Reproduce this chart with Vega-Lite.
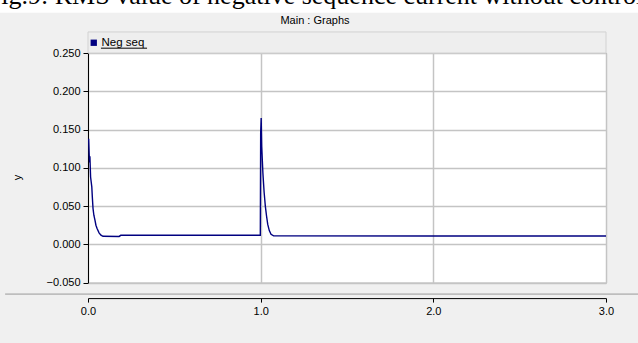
{
  "$schema": "https://vega.github.io/schema/vega-lite/v6.json",
  "width": 518,
  "height": 229.6,
  "autosize": {"type": "none"},
  "padding": {"left": 88, "top": 53, "right": 32, "bottom": 60.4},
  "background": "#f0f0f0",
  "title": {
    "text": "Fig.9: RMS value of negative sequence current without control",
    "subtitle": "Main : Graphs",
    "anchor": "middle",
    "frame": "group",
    "dx": -32,
    "dy": 27,
    "font": "Liberation Serif",
    "fontSize": 26,
    "fontWeight": "normal",
    "color": "#000000",
    "subtitleFont": "Liberation Sans",
    "subtitleFontSize": 11,
    "subtitleColor": "#000000",
    "subtitlePadding": 6,
    "offset": 0
  },
  "config": {
    "font": "Liberation Sans",
    "view": {"fill": "#ffffff", "stroke": "#9c9c9c", "strokeWidth": 1}
  },
  "datasets": {
    "trace": [
      {"t": 0.000, "v": 0.137, "series": "Neg seq"},
      {"t": 0.004, "v": 0.137, "series": "Neg seq"},
      {"t": 0.007, "v": 0.117, "series": "Neg seq"},
      {"t": 0.009, "v": 0.107, "series": "Neg seq"},
      {"t": 0.011, "v": 0.115, "series": "Neg seq"},
      {"t": 0.015, "v": 0.088, "series": "Neg seq"},
      {"t": 0.022, "v": 0.075, "series": "Neg seq"},
      {"t": 0.025, "v": 0.062, "series": "Neg seq"},
      {"t": 0.029, "v": 0.047, "series": "Neg seq"},
      {"t": 0.034, "v": 0.038, "series": "Neg seq"},
      {"t": 0.040, "v": 0.032, "series": "Neg seq"},
      {"t": 0.046, "v": 0.025, "series": "Neg seq"},
      {"t": 0.052, "v": 0.021, "series": "Neg seq"},
      {"t": 0.064, "v": 0.015, "series": "Neg seq"},
      {"t": 0.075, "v": 0.012, "series": "Neg seq"},
      {"t": 0.087, "v": 0.0105, "series": "Neg seq"},
      {"t": 0.180, "v": 0.0103, "series": "Neg seq"},
      {"t": 0.190, "v": 0.0118, "series": "Neg seq"},
      {"t": 0.500, "v": 0.0119, "series": "Neg seq"},
      {"t": 0.998, "v": 0.0119, "series": "Neg seq"},
      {"t": 1.000, "v": 0.145, "series": "Neg seq"},
      {"t": 1.003, "v": 0.165, "series": "Neg seq"},
      {"t": 1.006, "v": 0.128, "series": "Neg seq"},
      {"t": 1.013, "v": 0.093, "series": "Neg seq"},
      {"t": 1.020, "v": 0.068, "series": "Neg seq"},
      {"t": 1.027, "v": 0.050, "series": "Neg seq"},
      {"t": 1.034, "v": 0.037, "series": "Neg seq"},
      {"t": 1.041, "v": 0.026, "series": "Neg seq"},
      {"t": 1.050, "v": 0.018, "series": "Neg seq"},
      {"t": 1.060, "v": 0.013, "series": "Neg seq"},
      {"t": 1.075, "v": 0.011, "series": "Neg seq"},
      {"t": 2.000, "v": 0.0108, "series": "Neg seq"},
      {"t": 3.000, "v": 0.0108, "series": "Neg seq"}
    ]
  },
  "layer": [
    {
      "data": {"values": [{}]},
      "mark": {"type": "rect", "fill": "#ffffff"},
      "encoding": {
        "x": {"datum": -0.52},
        "x2": {"datum": 3.2},
        "y": {"datum": 0.3205},
        "y2": {"datum": 0.3025}
      }
    },
    {
      "data": {"name": "trace"},
      "mark": {"type": "line", "strokeWidth": 1.4, "clip": true},
      "encoding": {
        "x": {
          "field": "t",
          "type": "quantitative",
          "scale": {"domain": [0, 3], "nice": false, "zero": false},
          "axis": {
            "title": null,
            "values": [0, 1, 2, 3],
            "tickCount": 10,
            "format": ".1f",
            "offset": 15.5,
            "domainColor": "#000000",
            "tickColor": "#000000",
            "tickSize": 4,
            "labelPadding": 3,
            "labelColor": "#000000",
            "labelFontSize": 11,
            "labelFlush": false,
            "labelOverlap": false,
            "grid": true,
            "gridColor": "#c4c4c4",
            "gridWidth": 1.5
          }
        },
        "y": {
          "field": "v",
          "type": "quantitative",
          "scale": {"domain": [-0.05, 0.25], "nice": false, "zero": false},
          "axis": {
            "title": "y",
            "values": [-0.05, 0, 0.05, 0.1, 0.15, 0.2, 0.25],
            "tickCount": 10,
            "format": ".3f",
            "domainColor": "#000000",
            "tickColor": "#000000",
            "tickSize": 5,
            "labelPadding": 3,
            "labelColor": "#000000",
            "labelFontSize": 11,
            "labelOverlap": false,
            "labelFlush": false,
            "titleFontWeight": "normal",
            "titleFontSize": 11,
            "titleColor": "#000000",
            "titleX": -66,
            "titleY": 124,
            "grid": true,
            "gridColor": "#c4c4c4",
            "gridWidth": 1.5
          }
        },
        "color": {
          "field": "series",
          "type": "nominal",
          "scale": {"range": ["#000080"]},
          "legend": {
            "orient": "none",
            "legendX": 0,
            "legendY": -16,
            "title": null,
            "padding": 0,
            "symbolType": "square",
            "symbolSize": 40,
            "symbolFillColor": "#000080",
            "symbolStrokeColor": "#000080",
            "symbolStrokeWidth": 0,
            "labelFontSize": 11.5,
            "labelColor": "#000000",
            "labelOffset": 2
          }
        }
      }
    },
    {
      "data": {"values": [{}]},
      "mark": {"type": "rect", "fill": "#eeeeee", "stroke": "#d2d2d2", "strokeWidth": 1},
      "encoding": {
        "x": {"datum": 0},
        "x2": {"datum": 3},
        "y": {"datum": 0.25},
        "y2": {"datum": 0.2775}
      }
    },
    {
      "data": {"values": [{}]},
      "mark": {"type": "rule", "color": "#000000", "strokeWidth": 1},
      "encoding": {
        "x": {"datum": 0.075},
        "x2": {"datum": 0.342},
        "y": {"datum": 0.2563}
      }
    },
    {
      "data": {"values": [{}]},
      "mark": {"type": "rule", "color": "#9a9a9a", "strokeWidth": 1},
      "encoding": {
        "x": {"datum": -0.48},
        "x2": {"datum": 3.2},
        "y": {"datum": -0.065}
      }
    }
  ]
}
